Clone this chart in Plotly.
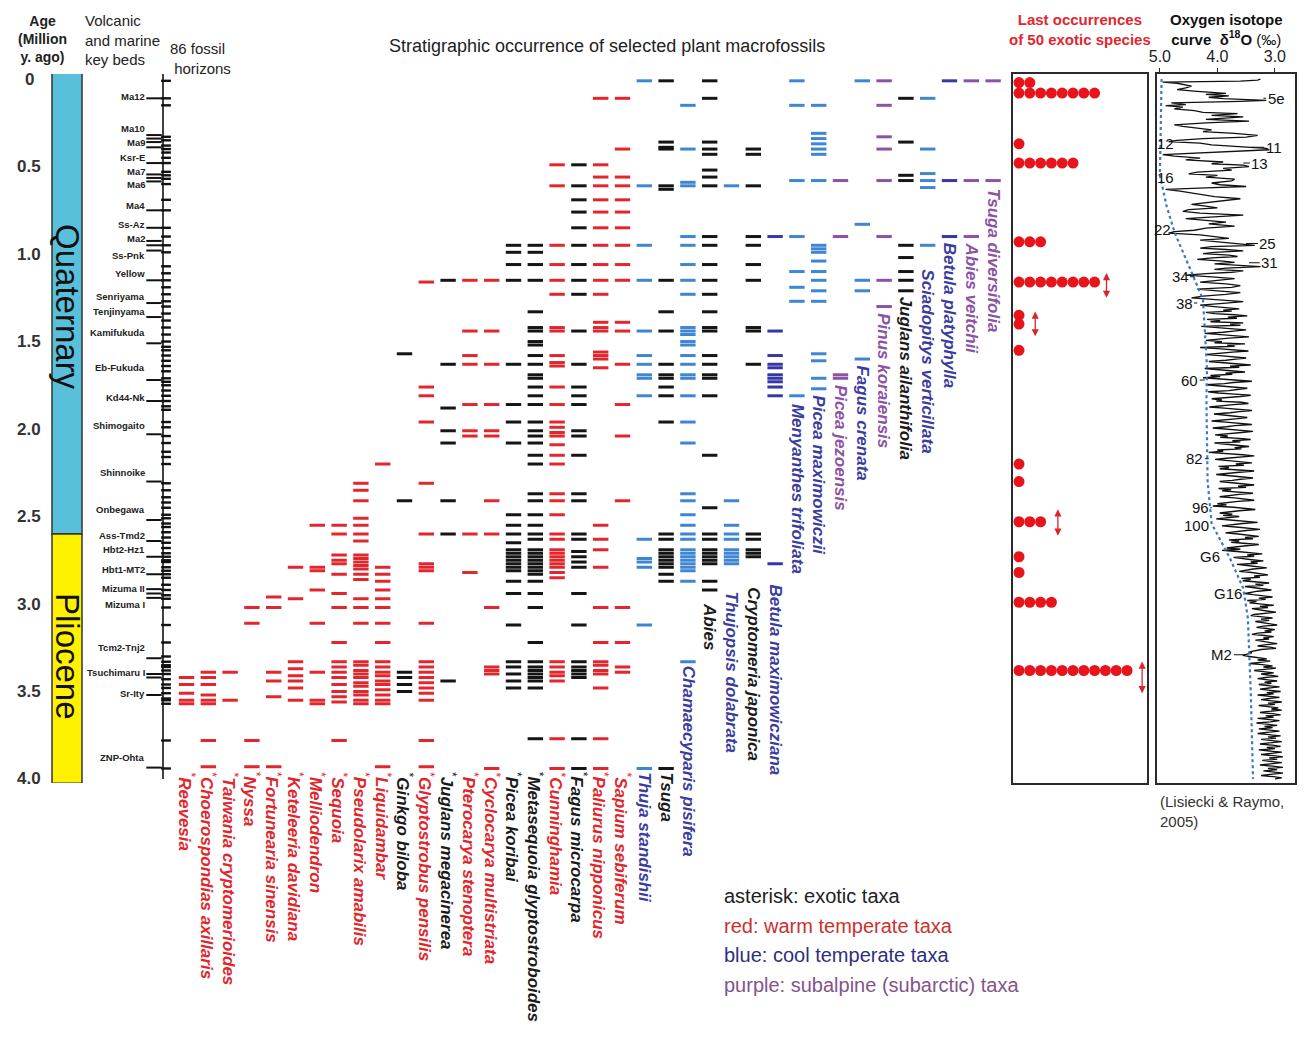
import plotly.graph_objects as go

W, H = 1307, 1037

# ------------------------------------------------------------------ data
age_ticks = [0.0, 0.5, 1.0, 1.5, 2.0, 2.5, 3.0, 3.5, 4.0]
age_tick_labels = ["0", "0.5", "1.0", "1.5", "2.0", "2.5", "3.0", "3.5", "4.0"]

periods = ["Quaternary", "Pliocene"]
period_from = [0.0, 2.6]
period_to = [2.6, 4.0]

key_beds = ["Ma12", "Ma10", "Ma9", "Ksr-E", "Ma7", "Ma6", "Ma4", "Ss-Az", "Ma2", "Ss-Pnk",
            "Yellow", "Senriyama", "Tenjinyama", "Kamifukuda", "Eb-Fukuda", "Kd44-Nk",
            "Shimogaito", "Shinnoike", "Onbegawa", "Ass-Tmd2", "Hbt2-Hz1", "Hbt1-MT2",
            "Mizuma II", "Mizuma I", "Tcm2-Tnj2", "Tsuchimaru I", "Sr-Ity", "ZNP-Ohta"]
key_bed_ages = [0.10, 0.28, 0.36, 0.45, 0.53, 0.60, 0.72, 0.83, 0.91, 1.01,
                1.11, 1.24, 1.33, 1.45, 1.65, 1.82, 1.98, 2.25, 2.46, 2.61,
                2.69, 2.80, 2.91, 3.00, 3.25, 3.39, 3.51, 3.88]
key_bed_tick_ages = [0.11, 0.32, 0.34, 0.36, 0.39, 0.48, 0.545, 0.565, 0.585, 0.75, 0.85,
                     0.925, 0.95, 0.98, 1.15, 1.28, 1.36, 1.51, 1.72, 1.84, 2.03, 2.30,
                     2.52, 2.64, 2.73, 2.83, 2.915, 2.94, 2.965, 3.31, 3.40, 3.42, 3.52, 3.935]

horizon_ages = [0.01, 0.11, 0.15, 0.33, 0.35, 0.38, 0.40, 0.42, 0.45, 0.48, 0.53, 0.55,
                0.57, 0.60, 0.69, 0.75, 0.85, 0.90, 0.95, 0.99, 1.07, 1.11, 1.15, 1.19,
                1.23, 1.27, 1.30, 1.34, 1.38, 1.42, 1.46, 1.50, 1.53, 1.55, 1.58, 1.61,
                1.64, 1.67, 1.71, 1.73, 1.75, 1.78, 1.81, 1.84, 1.87, 1.89, 1.96, 1.99,
                2.04, 2.08, 2.13, 2.16, 2.20, 2.31, 2.35, 2.39, 2.42, 2.45, 2.49, 2.51,
                2.54, 2.56, 2.59, 2.62, 2.65, 2.68, 2.71, 2.73, 2.75, 2.76, 2.79, 2.81,
                2.83, 2.85, 2.89, 2.92, 2.95, 2.97, 3.02, 3.12, 3.22, 3.30, 3.33, 3.35,
                3.36, 3.38, 3.40, 3.43, 3.46, 3.48, 3.51, 3.54, 3.55, 3.57, 3.78, 3.94]

taxa = ["Reevesia", "Choerospondias axillaris", "Taiwania cryptomerioides", "Nyssa",
        "Fortunearia sinensis", "Keteleeria davidiana", "Melliodendron", "Sequoia",
        "Pseudolarix amabilis", "Liquidambar", "Ginkgo biloba", "Glyptostrobus pensilis",
        "Juglans megacinerea", "Pterocarya stenoptera", "Cyclocarya multistriata",
        "Picea koribai", "Metasequoia glyptostroboides", "Cunninghamia", "Fagus microcarpa",
        "Paliurus nipponicus", "Sapium sebiferum", "Thuja standishii", "Tsuga",
        "Chamaecyparis pisifera", "Abies", "Thujopsis dolabrata", "Cryptomeria japonica",
        "Betula maximowicziana", "Menyanthes trifoliata", "Picea maximowiczii",
        "Picea jezoensis", "Fagus crenata", "Pinus koraiensis", "Juglans ailanthifolia",
        "Sciadopitys verticillata", "Betula platyphylla", "Abies veitchii", "Tsuga diversifolia"]
taxa_group = ["warm"] * 10 + ["exo"] + ["warm"] + ["exo", "warm", "warm", "exo", "exo", "warm",
              "exo", "warm", "warm", "cool", "con", "cool", "con", "cool", "con", "cool2",
              "cool", "cool", "sub", "cool", "sub", "con", "cool", "cool2", "sub", "sub"]
taxa_exotic = [True] * 21 + [False] * 17
taxa_label_top = [3.955] * 23 + [3.35, 2.99, 2.92, 2.90, 2.88, 1.85, 1.80, 1.74, 1.63,
                                 1.33, 1.24, 1.08, 0.93, 0.93, 0.62]

occ_reevesia = [3.42, 3.46, 3.51, 3.55, 3.57]
occ_choerospondias = [3.39, 3.42, 3.46, 3.52, 3.55, 3.57, 3.78, 3.93]
occ_taiwania = [3.39, 3.55]
occ_nyssa = [3.02, 3.11, 3.78, 3.93]
occ_fortunearia = [2.96, 3.02, 3.39, 3.44, 3.53, 3.93]
occ_keteleeria = [2.79, 2.97, 3.33, 3.37, 3.41, 3.44, 3.48, 3.55]
occ_melliodendron = [2.55, 2.79, 2.81, 2.92, 3.11, 3.39, 3.55, 3.57]
occ_sequoia = [2.55, 2.60, 2.72, 2.75, 2.77, 2.83, 2.94, 3.02, 3.22, 3.33, 3.36, 3.39,
               3.42, 3.46, 3.50, 3.53, 3.56, 3.78]
occ_pseudolarix = [2.31, 2.35, 2.41, 2.51, 2.55, 2.60, 2.64, 2.72, 2.74, 2.76, 2.78, 2.80,
                   2.83, 2.86, 2.97, 3.02, 3.11, 3.33, 3.35, 3.38, 3.40, 3.42, 3.45, 3.47,
                   3.50, 3.52, 3.55, 3.57]
occ_liquidambar = [2.20, 2.79, 2.83, 2.87, 2.92, 2.97, 3.02, 3.11, 3.22, 3.33, 3.36, 3.39,
                   3.41, 3.44, 3.46, 3.49, 3.52, 3.55, 3.57, 3.93]
occ_ginkgo = [1.57, 2.41, 3.39, 3.42, 3.46, 3.50]
occ_glyptostrobus = [1.16, 1.76, 1.81, 1.96, 2.31, 2.60, 2.77, 2.79, 2.81, 3.11, 3.33, 3.36,
                     3.39, 3.42, 3.45, 3.48, 3.51, 3.55, 3.78, 3.93]
occ_juglans_meg = [1.15, 1.63, 1.88, 2.01, 2.08, 2.41, 2.60, 3.44]
occ_pterocarya = [1.15, 1.44, 1.58, 1.63, 1.86, 2.01, 2.04, 2.60, 2.82]
occ_cyclocarya = [1.15, 1.44, 1.63, 1.86, 2.01, 2.04, 2.41, 2.60, 3.02, 3.36, 3.38, 3.40, 3.94]
occ_picea_koribai = [0.95, 0.99, 1.06, 1.15, 1.63, 1.86, 1.96, 2.08, 2.49, 2.55, 2.60, 2.65,
                     2.69, 2.71, 2.73, 2.75, 2.77, 2.79, 2.81, 2.87, 2.94, 3.12, 3.33, 3.36,
                     3.40, 3.44, 3.48]
occ_metasequoia = [0.95, 0.99, 1.06, 1.15, 1.33, 1.42, 1.44, 1.50, 1.52, 1.58, 1.63, 1.69,
                   1.71, 1.76, 1.81, 1.86, 1.96, 2.01, 2.04, 2.08, 2.15, 2.20, 2.37, 2.41,
                   2.49, 2.55, 2.60, 2.63, 2.69, 2.71, 2.73, 2.75, 2.77, 2.79, 2.81, 2.83,
                   2.87, 2.94, 3.02, 3.22, 3.33, 3.36, 3.38, 3.40, 3.42, 3.44, 3.48, 3.77]
occ_cunninghamia = [0.49, 0.61, 0.95, 1.06, 1.15, 1.23, 1.42, 1.44, 1.58, 1.62, 1.64, 1.76,
                    1.86, 1.96, 1.99, 2.02, 2.04, 2.09, 2.15, 2.20, 2.37, 2.41, 2.49, 2.60,
                    2.63, 2.69, 2.71, 2.73, 2.75, 2.77, 2.79, 2.82, 2.85, 3.33, 3.36, 3.39,
                    3.41, 3.44, 3.77, 3.94]
occ_fagus_micro = [0.49, 0.61, 0.69, 0.76, 0.85, 0.95, 1.06, 1.15, 1.23, 1.44, 1.63, 1.76,
                   1.81, 1.86, 2.01, 2.04, 2.15, 2.37, 2.41, 2.60, 2.63, 2.70, 2.73, 2.76,
                   2.79, 2.94, 3.12, 3.33, 3.36, 3.38, 3.40, 3.42, 3.77, 3.94]
occ_paliurus = [0.11, 0.49, 0.56, 0.61, 0.69, 0.76, 0.85, 0.95, 1.06, 1.15, 1.23, 1.39,
                1.42, 1.44, 1.56, 1.58, 1.60, 1.65, 2.55, 2.63, 2.69, 2.79, 3.02, 3.22,
                3.33, 3.35, 3.38, 3.40, 3.48, 3.77, 3.94]
occ_sapium = [0.11, 0.40, 0.56, 0.61, 0.69, 0.76, 0.85, 0.95, 1.06, 1.15, 1.39, 1.44, 1.63,
              1.86, 2.04, 2.41, 3.02, 3.22, 3.36, 3.39]
occ_thuja = [0.01, 0.61, 0.95, 1.15, 1.44, 1.58, 1.63, 1.69, 1.71, 1.81, 2.63, 2.74, 2.76,
             2.79, 3.12, 3.94]
occ_tsuga = [0.01, 0.36, 0.39, 0.40, 0.61, 0.63, 1.15, 1.33, 1.44, 1.63, 1.69, 1.71, 1.76,
             1.81, 1.96, 2.60, 2.63, 2.69, 2.71, 2.73, 2.75, 2.77, 2.79, 2.83, 2.87, 3.94]
occ_chamaecyparis = [0.15, 0.40, 0.59, 0.61, 0.90, 0.95, 1.06, 1.15, 1.23, 1.42, 1.44, 1.46,
                     1.50, 1.52, 1.58, 1.63, 1.69, 1.71, 1.81, 1.96, 2.08, 2.37, 2.41, 2.49,
                     2.55, 2.60, 2.63, 2.69, 2.71, 2.73, 2.75, 2.77, 2.79, 2.81, 2.87, 3.33]
occ_abies = [0.01, 0.11, 0.36, 0.40, 0.43, 0.52, 0.56, 0.61, 0.90, 0.95, 1.06, 1.15, 1.23,
             1.33, 1.42, 1.44, 1.58, 1.63, 1.69, 1.71, 1.81, 2.15, 2.45, 2.60, 2.63, 2.69,
             2.71, 2.73, 2.75, 2.77, 2.87, 2.92]
occ_thujopsis = [0.61, 2.41, 2.55, 2.60, 2.63, 2.69, 2.71, 2.73, 2.75, 2.77]
occ_cryptomeria = [0.40, 0.43, 0.61, 0.90, 0.95, 1.06, 1.15, 1.42, 1.44, 1.63, 2.60, 2.63,
                   2.69, 2.71, 2.73]
occ_betula_max = [0.90, 1.44, 1.58, 1.63, 1.65, 1.69, 1.71, 1.73, 1.76, 1.81, 2.77]
occ_menyanthes = [0.01, 0.15, 0.58, 0.90, 1.10, 1.19, 1.27, 1.81]
occ_picea_max = [0.15, 0.31, 0.34, 0.37, 0.40, 0.43, 0.58, 0.95, 0.97, 0.99, 1.04, 1.10,
                 1.15, 1.21, 1.27, 1.57, 1.61, 1.71, 1.77]
occ_picea_jez = [0.58, 0.90, 1.69, 1.71]
occ_fagus_crenata = [0.01, 0.83, 1.15, 1.21, 1.60]
occ_pinus_kor = [0.01, 0.15, 0.33, 0.40, 0.58, 0.90, 1.15, 1.30]
occ_juglans_ail = [0.11, 0.36, 0.55, 0.58, 0.95, 1.02, 1.10, 1.15, 1.21]
occ_sciadopitys = [0.11, 0.40, 0.54, 0.58, 0.62, 0.95]
occ_betula_pla = [0.01, 0.58, 0.90]
occ_abies_vei = [0.01, 0.58, 0.90]
occ_tsuga_div = [0.01, 0.58]

taxa_occurrences = [occ_reevesia, occ_choerospondias, occ_taiwania, occ_nyssa, occ_fortunearia,
                    occ_keteleeria, occ_melliodendron, occ_sequoia, occ_pseudolarix,
                    occ_liquidambar, occ_ginkgo, occ_glyptostrobus, occ_juglans_meg,
                    occ_pterocarya, occ_cyclocarya, occ_picea_koribai, occ_metasequoia,
                    occ_cunninghamia, occ_fagus_micro, occ_paliurus, occ_sapium, occ_thuja,
                    occ_tsuga, occ_chamaecyparis, occ_abies, occ_thujopsis, occ_cryptomeria,
                    occ_betula_max, occ_menyanthes, occ_picea_max, occ_picea_jez,
                    occ_fagus_crenata, occ_pinus_kor, occ_juglans_ail, occ_sciadopitys,
                    occ_betula_pla, occ_abies_vei, occ_tsuga_div]

# last occurrences of exotic species: age of the level and number of species
last_occ_ages = [0.02, 0.08, 0.37, 0.48, 0.93, 1.16, 1.35, 1.40, 1.55, 2.20, 2.30, 2.53,
                 2.73, 2.82, 2.99, 3.38]
last_occ_counts = [2, 8, 1, 6, 3, 8, 1, 1, 1, 1, 1, 3, 1, 1, 4, 11]
# uncertainty arrows: (dot column, top age, bottom age)
arrow_dot_col = [8.1, 1.5, 3.6, 11.4]
arrow_top = [1.10, 1.32, 2.45, 3.32]
arrow_bottom = [1.25, 1.47, 2.61, 3.51]

# LR04 benthic d18O stack: (age ka, d18O permil)
iso_curve = [
    (0, 3.25), (6, 3.3), (12, 3.6), (18, 4.95), (24, 4.7), (30, 4.6), (40, 4.45), (50, 4.55),
    (60, 4.7), (70, 4.35), (82, 3.85), (88, 4.2), (96, 3.8), (104, 4.15), (112, 3.9),
    (122, 3.15), (128, 3.6), (136, 4.8), (146, 4.55), (152, 4.9), (160, 4.6), (170, 4.75),
    (180, 4.4), (190, 4.25), (198, 3.65), (208, 4.1), (216, 3.55), (230, 4.2), (240, 3.45),
    (250, 4.2), (262, 4.75), (270, 4.6), (280, 4.3), (290, 4.1), (300, 4.25), (310, 3.7),
    (322, 3.3), (332, 3.5), (340, 4.25), (350, 4.7), (358, 4.85), (366, 4.3), (376, 4.1),
    (386, 3.6), (396, 3.15), (404, 3.1), (414, 3.7), (424, 4.5), (432, 4.95), (440, 4.75),
    (452, 4.3), (462, 4.55), (474, 3.9), (484, 4.1), (492, 3.55), (500, 3.45), (510, 3.9),
    (520, 3.75), (532, 4.35), (542, 4.5), (550, 4.0), (560, 4.2), (572, 3.7), (582, 3.75),
    (594, 4.1), (604, 3.95), (614, 3.5), (622, 4.2), (630, 4.9), (640, 4.65), (650, 4.45),
    (660, 4.3), (672, 4.05), (684, 3.6), (694, 3.9), (706, 4.2), (716, 4.45), (726, 4.2),
    (736, 4.0), (746, 4.5), (756, 4.6), (766, 4.3), (778, 3.55), (790, 4.2), (798, 4.55),
    (808, 4.2), (818, 3.85), (828, 4.15), (840, 3.7), (852, 4.2), (864, 4.4), (872, 4.75),
    (880, 4.85), (890, 4.3), (900, 4.05), (910, 3.8), (920, 4.3), (930, 3.95), (942, 3.6),
    (950, 3.35), (958, 4.1), (966, 4.3), (974, 3.85), (982, 3.55), (990, 4.05), (998, 4.25),
    (1006, 3.8), (1014, 3.65), (1022, 4.1), (1030, 4.35), (1040, 3.9), (1048, 3.7),
    (1056, 4.05), (1064, 3.6), (1072, 3.25), (1080, 3.85), (1088, 4.05), (1096, 3.55),
    (1104, 3.75), (1112, 4.2), (1120, 4.55), (1130, 4.1), (1140, 3.7), (1150, 4.0),
    (1160, 4.3), (1170, 3.85), (1180, 3.6), (1190, 3.75), (1200, 4.35), (1210, 4.0),
    (1220, 3.6), (1230, 3.85), (1240, 4.25), (1250, 4.45), (1262, 4.0), (1272, 3.55),
    (1282, 3.9), (1292, 4.3),
    (1300, 4.05), (1307, 3.80), (1313, 3.62), (1320, 3.90), (1326, 3.75), (1333, 4.20),
    (1340, 4.05), (1347, 3.70), (1353, 3.48), (1360, 3.82), (1367, 3.66), (1373, 4.18),
    (1380, 3.95), (1387, 4.12), (1393, 3.55), (1400, 3.78), (1407, 3.60), (1413, 4.28),
    (1420, 4.02), (1427, 3.85), (1433, 3.50), (1440, 3.72), (1447, 3.90), (1453, 4.22),
    (1460, 3.88), (1467, 3.62), (1473, 3.45), (1480, 3.80), (1487, 3.98), (1493, 4.20),
    (1500, 3.92), (1507, 4.05), (1513, 3.52), (1520, 3.83), (1527, 3.70), (1534, 4.30),
    (1540, 4.00), (1547, 3.78), (1554, 3.46), (1560, 3.74), (1567, 3.92), (1574, 4.18),
    (1580, 3.96), (1587, 3.75), (1594, 3.50), (1600, 3.68), (1607, 3.85), (1614, 4.15),
    (1620, 3.90), (1627, 3.70), (1634, 3.42), (1640, 3.78), (1647, 3.62), (1654, 4.22),
    (1660, 4.00), (1667, 3.82), (1674, 3.52), (1680, 3.86), (1687, 3.74), (1694, 4.12),
    (1700, 3.95), (1707, 4.25), (1714, 3.90), (1720, 3.62), (1727, 3.40), (1734, 3.72),
    (1740, 3.88), (1747, 4.20), (1754, 3.94), (1760, 3.76), (1767, 3.48), (1774, 3.66),
    (1780, 3.80), (1787, 4.16), (1794, 3.98), (1800, 3.70), (1807, 3.42), (1814, 3.60),
    (1820, 3.84), (1827, 4.10), (1834, 3.92), (1840, 4.02), (1847, 3.58), (1854, 3.46),
    (1860, 3.72), (1867, 3.90), (1874, 4.14), (1880, 3.88), (1887, 3.66), (1894, 3.40),
    (1900, 3.62), (1907, 3.78), (1914, 4.06), (1920, 3.90), (1927, 3.72), (1934, 3.48),
    (1940, 3.64), (1947, 3.86), (1954, 4.10), (1960, 3.85), (1967, 3.62), (1974, 3.40),
    (1980, 3.70), (1987, 3.84), (1994, 4.08), (2000, 3.86), (2007, 3.68), (2014, 3.38),
    (2020, 3.58), (2027, 3.76), (2034, 4.04), (2040, 3.82), (2047, 3.95), (2054, 3.62),
    (2060, 3.42), (2067, 3.74), (2074, 3.60), (2080, 4.05), (2087, 3.82), (2094, 3.66),
    (2100, 3.45), (2107, 3.70), (2114, 3.58), (2120, 4.00), (2127, 3.90), (2134, 4.15),
    (2140, 3.80), (2147, 3.56), (2154, 3.36), (2160, 3.66), (2167, 3.84), (2174, 4.04),
    (2180, 3.82), (2187, 3.62), (2194, 3.40), (2200, 3.68), (2207, 3.54), (2214, 3.98),
    (2220, 3.80), (2227, 3.96), (2234, 3.60), (2240, 3.36), (2247, 3.62), (2254, 3.80),
    (2260, 4.02), (2267, 3.78), (2274, 3.58), (2280, 3.38), (2287, 3.60), (2294, 3.74),
    (2300, 3.96), (2307, 3.72), (2314, 3.52), (2320, 3.36), (2327, 3.64), (2334, 3.50),
    (2340, 3.98), (2347, 3.76), (2354, 3.92), (2360, 3.56), (2367, 3.38), (2374, 3.62),
    (2380, 3.80), (2387, 3.96), (2394, 3.70), (2400, 3.50), (2407, 3.36), (2414, 3.64),
    (2420, 3.78), (2427, 4.00), (2434, 3.84), (2440, 4.08), (2447, 3.72), (2454, 3.46),
    (2460, 3.34), (2467, 3.62), (2474, 3.80), (2480, 3.96), (2487, 3.74), (2494, 3.90),
    (2500, 3.62), (2507, 3.80), (2514, 4.02), (2520, 3.78), (2527, 3.50), (2534, 3.30),
    (2540, 3.56), (2547, 3.74), (2554, 3.92), (2560, 3.68), (2567, 3.48), (2574, 3.26),
    (2580, 3.50), (2587, 3.68), (2594, 3.86), (2600, 3.64), (2607, 3.44), (2614, 3.28),
    (2620, 3.52), (2627, 3.38), (2634, 3.80), (2640, 3.62), (2647, 3.76), (2654, 3.48),
    (2660, 3.28), (2667, 3.50), (2674, 3.68), (2680, 3.84), (2687, 3.60), (2694, 3.92),
    (2700, 3.66), (2707, 3.40), (2714, 3.22), (2720, 3.48), (2727, 3.36), (2734, 3.72),
    (2740, 3.52), (2747, 3.40), (2754, 3.20), (2760, 3.42), (2767, 3.30), (2774, 3.66),
    (2780, 3.48), (2787, 3.30), (2794, 3.14), (2800, 3.38), (2807, 3.50), (2814, 3.62),
    (2820, 3.40), (2827, 3.22), (2834, 3.12), (2840, 3.36), (2847, 3.26), (2854, 3.58),
    (2860, 3.42), (2867, 3.56), (2874, 3.30), (2880, 3.10), (2887, 3.34), (2894, 3.20),
    (2900, 3.52), (2907, 3.36), (2914, 3.24), (2920, 3.06), (2927, 3.30), (2934, 3.40),
    (2940, 3.52), (2947, 3.38), (2954, 3.22), (2960, 3.04), (2967, 3.28), (2974, 3.16),
    (2980, 3.48), (2987, 3.32), (2994, 3.44), (3000, 3.18), (3007, 3.02), (3014, 3.26),
    (3020, 3.12), (3027, 3.40), (3034, 3.28), (3040, 3.14), (3047, 2.98), (3054, 3.22),
    (3060, 3.36), (3067, 3.42), (3074, 3.20), (3080, 3.04), (3087, 3.24), (3094, 3.10),
    (3100, 3.34), (3107, 3.20), (3114, 3.04), (3120, 2.96), (3127, 3.20), (3134, 3.32),
    (3140, 3.14), (3147, 3.00), (3154, 3.18), (3160, 3.06), (3167, 3.30), (3174, 3.40),
    (3180, 3.18), (3187, 3.02), (3194, 3.20), (3200, 3.10), (3207, 3.34), (3214, 3.22),
    (3220, 3.06), (3227, 2.96), (3234, 3.18), (3240, 3.30), (3247, 3.08), (3254, 2.98),
    (3260, 3.24), (3267, 3.36), (3274, 3.44), (3280, 3.40), (3287, 3.50), (3294, 3.56),
    (3300, 3.44), (3307, 3.30), (3314, 3.14), (3320, 3.30), (3327, 3.08), (3334, 3.26),
    (3340, 3.44), (3347, 3.22), (3354, 3.04), (3360, 3.20), (3367, 2.98), (3374, 3.18),
    (3380, 3.36), (3387, 3.20), (3394, 3.02), (3400, 3.24), (3407, 3.12), (3414, 2.94),
    (3420, 3.16), (3427, 3.30), (3434, 3.12), (3440, 2.96), (3447, 3.18), (3454, 3.06),
    (3460, 3.28), (3467, 3.14), (3474, 2.92), (3480, 3.10), (3487, 3.26), (3494, 3.08),
    (3500, 2.90), (3507, 3.14), (3514, 3.02), (3520, 3.30), (3527, 3.12), (3534, 2.92),
    (3540, 3.10), (3547, 3.24), (3554, 3.04), (3560, 2.88), (3567, 3.12), (3574, 3.00),
    (3580, 3.28), (3587, 3.10), (3594, 2.94), (3600, 3.06), (3607, 2.88), (3614, 3.12),
    (3620, 3.26), (3627, 3.04), (3634, 2.90), (3640, 3.16), (3647, 3.02), (3654, 3.30),
    (3660, 3.12), (3667, 2.92), (3674, 3.08), (3680, 3.32), (3687, 3.14), (3694, 2.96),
    (3700, 3.18), (3707, 3.04), (3714, 3.28), (3720, 3.10), (3727, 2.92), (3734, 3.14),
    (3740, 3.30), (3747, 3.10), (3754, 2.90), (3760, 3.12), (3767, 2.98), (3774, 3.24),
    (3780, 3.06), (3787, 2.88), (3794, 3.10), (3800, 3.26), (3807, 3.04), (3814, 2.90),
    (3820, 3.14), (3827, 3.00), (3834, 3.28), (3840, 3.08), (3847, 2.88), (3854, 3.06),
    (3860, 3.24), (3867, 3.02), (3874, 2.86), (3880, 3.10), (3887, 2.96), (3894, 3.22),
    (3900, 3.06), (3907, 2.88), (3914, 3.08), (3920, 3.26), (3927, 3.04), (3934, 2.86),
    (3940, 3.12), (3947, 2.96), (3954, 3.20), (3960, 3.02), (3967, 2.86), (3974, 3.08),
    (3980, 3.24), (3987, 3.02), (3994, 2.88), (4000, 3.00),
]
trend_ages = [0.0, 0.30, 0.55, 0.73, 0.88, 1.08, 1.19, 1.26, 1.65, 1.84, 2.30, 2.54, 2.74,
              2.91, 3.08, 3.50, 4.0]
trend_d18o = [4.97, 4.99, 5.0, 4.88, 4.74, 4.48, 4.34, 4.25, 4.18, 4.19, 4.17, 4.10, 3.78,
              3.55, 3.47, 3.42, 3.38]

# marine isotope stage labels: label position and curve point the leader goes to
stage_labels = ["5e", "12", "11", "13", "16", "22", "25", "31", "34", "38", "60", "82",
                "96", "100", "G6", "G16", "M2"]
stage_ages = [0.11, 0.37, 0.39, 0.48, 0.56, 0.86, 0.94, 1.05, 1.13, 1.28, 1.72, 2.17,
              2.45, 2.55, 2.73, 2.94, 3.29]
stage_d18o = [2.98, 4.90, 3.02, 3.26, 4.90, 4.95, 3.12, 3.09, 4.65, 4.58, 4.48, 4.39,
              4.30, 4.36, 4.13, 3.82, 3.92]
stage_leader_to = [3.20, None, 3.40, 3.55, None, None, 3.50, 3.45, 4.40, 4.35, 4.22, 4.15,
                   4.10, 4.12, 3.95, 3.58, 3.50]

legend_lines = ["asterisk: exotic taxa", "red: warm temperate taxa",
                "blue: cool temperate taxa", "purple: subalpine (subarctic) taxa"]

# ------------------------------------------------------------------ style / layout constants
FONT = "Liberation Sans, Arial, sans-serif"
NARROW = "Liberation Sans Narrow, Arial Narrow, Liberation Sans, sans-serif"
LABEL_COLOR = {"warm": "#E0262B", "exo": "#1a1a1a", "con": "#1a1a1a", "cool": "#3A3C9E",
               "cool2": "#3A3C9E", "sub": "#8B52A5"}
DASH_COLOR = {"warm": "#E3262C", "exo": "#151515", "con": "#151515", "cool": "#3E86D4",
              "cool2": "#3537A6", "sub": "#8B52A5"}
PERIOD_COLOR = ["#58C0DA", "#FFF100"]
LEGEND_COLOR = ["#222222", "#C8322F", "#2E2F80", "#84548A"]

COL_X0, COL_DX = 186.5, 21.8          # pixel position of first taxon column, spacing
Y_TOP_PX, Y_BOT_PX = 74, 783           # plotting frame in pixels
AGE_RANGE = [4.023, -0.029]


def px(x):
    return x / W


def py(y):
    return 1 - y / H


Y_DOMAIN = [py(Y_BOT_PX), py(Y_TOP_PX)]

fig = go.Figure()

# ---- taxon dashes
groups = {}
for name, grp, occ in zip(taxa, taxa_group, taxa_occurrences):
    xs, ys = groups.setdefault(DASH_COLOR[grp], ([], []))
    xs.extend([name] * len(occ))
    ys.extend(occ)
for col, (xs, ys) in groups.items():
    fig.add_trace(go.Scatter(
        x=xs, y=ys, mode="markers", xaxis="x", yaxis="y", hoverinfo="skip", showlegend=False,
        marker=dict(symbol="line-ew", size=11, color=col, line=dict(color=col, width=3))))

# ---- fossil horizon axis and key-bed ticks (pixel x axis overlaid)
fig.add_trace(go.Scatter(x=[163, 163], y=[AGE_RANGE[1] - 0.03, horizon_ages[-1] + 0.06],
                         mode="lines", xaxis="x4", yaxis="y", line=dict(color="#111", width=1.6),
                         hoverinfo="skip", showlegend=False))
fig.add_trace(go.Scatter(x=[166] * len(horizon_ages), y=horizon_ages, mode="markers",
                         xaxis="x4", yaxis="y", hoverinfo="skip", showlegend=False,
                         marker=dict(symbol="line-ew", size=7, color="#111",
                                     line=dict(color="#111", width=2.4))))
fig.add_trace(go.Scatter(x=[154] * len(key_bed_tick_ages), y=key_bed_tick_ages, mode="markers",
                         xaxis="x4", yaxis="y", hoverinfo="skip", showlegend=False,
                         marker=dict(symbol="line-ew", size=11, color="#111",
                                     line=dict(color="#111", width=2.0))))

# ---- last occurrences dots
dot_x, dot_y = [], []
for a, n in zip(last_occ_ages, last_occ_counts):
    dot_x.extend(range(n))
    dot_y.extend([a] * n)
fig.add_trace(go.Scatter(x=dot_x, y=dot_y, mode="markers", xaxis="x2", yaxis="y2",
                         hoverinfo="skip", showlegend=False,
                         marker=dict(symbol="circle", size=11, color="#E8141B",
                                     line=dict(width=0))))

# ---- isotope curve
fig.add_trace(go.Scatter(x=[v for _, v in iso_curve], y=[a / 1000 for a, _ in iso_curve],
                         mode="lines", xaxis="x3", yaxis="y3", hoverinfo="skip",
                         showlegend=False, line=dict(color="#111", width=1.3)))
fig.add_trace(go.Scatter(x=trend_d18o, y=trend_ages, mode="lines", xaxis="x3", yaxis="y3",
                         hoverinfo="skip", showlegend=False,
                         line=dict(color="#3C78C8", width=2.2, dash="dot")))

# ---- shapes: period bar
shapes = []
for i, (a0, a1) in enumerate(zip(period_from, period_to)):
    shapes.append(dict(type="rect", xref="paper", yref="y", x0=px(52), x1=px(82),
                       y0=a0 - (0.035 if i == 0 else 0), y1=a1 + (0.025 if i == 1 else 0),
                       fillcolor=PERIOD_COLOR[i], line=dict(color="#333", width=1.5),
                       layer="below"))

# ---- annotations
ann = []
for a, t in zip(age_ticks, age_tick_labels):
    ann.append(dict(x=px(29), y=a, xref="paper", yref="y", text=f"<b>{t}</b>",
                    showarrow=False, xanchor="center", yanchor="middle",
                    font=dict(family=FONT, size=17, color="#333")))
for i, p in enumerate(periods):
    ann.append(dict(x=px(67.5), y=(period_from[i] + period_to[i]) / 2, xref="paper", yref="y",
                    text=p, showarrow=False, textangle=90, xanchor="center", yanchor="middle",
                    font=dict(family=FONT, size=33, color="#111")))
for name, a in zip(key_beds, key_bed_ages):
    ann.append(dict(x=px(147), y=a, xref="paper", yref="y", text=f"<b>{name}</b>",
                    showarrow=False, xanchor="right", yanchor="middle",
                    font=dict(family=NARROW, size=9.5, color="#222")))
for name, grp, exo, top in zip(taxa, taxa_group, taxa_exotic, taxa_label_top):
    txt = ("<sup>*</sup>" if exo else "") + f"<b><i>{name}</i></b>"
    ann.append(dict(x=name, y=top, xref="x", yref="y", text=txt, showarrow=False,
                    textangle=90, xanchor="center", yanchor="top", borderpad=0,
                    font=dict(family=FONT, size=17, color=LABEL_COLOR[grp])))
for c, t0, t1 in zip(arrow_dot_col, arrow_top, arrow_bottom):
    ann.append(dict(x=c, y=t1, ax=c, ay=t0, xref="x2", yref="y2", axref="x2", ayref="y2",
                    text="", showarrow=True, arrowhead=2, arrowside="end+start",
                    arrowsize=1.1, arrowwidth=1.3, arrowcolor="#D8262C"))
for t, a, v, lead in zip(stage_labels, stage_ages, stage_d18o, stage_leader_to):
    f = dict(family=FONT, size=15, color="#111")
    if lead is None:
        ann.append(dict(x=v, y=a, xref="x3", yref="y3", text=t, showarrow=False,
                        xanchor="center", yanchor="middle", font=f))
    else:
        ann.append(dict(x=lead, y=a, ax=v, ay=a, xref="x3", yref="y3", axref="x3",
                        ayref="y3", text=t, showarrow=True, arrowhead=0, arrowwidth=1.1,
                        arrowcolor="#111", standoff=0, font=f))

# headers
ann += [
    dict(x=px(42), y=py(39), xref="paper", yref="paper", showarrow=False,
         text="<b>Age<br>(Million<br>y. ago)</b>", align="center", xanchor="center",
         yanchor="middle", font=dict(family=NARROW, size=14, color="#222")),
    dict(x=px(83), y=py(40), xref="paper", yref="paper", showarrow=False,
         text="Volcanic<br>and marine<br>key beds", align="left", xanchor="left",
         yanchor="middle", font=dict(family=FONT, size=15, color="#222")),
    dict(x=px(168), y=py(58), xref="paper", yref="paper", showarrow=False,
         text="86 fossil<br> horizons", align="left", xanchor="left", yanchor="middle",
         font=dict(family=FONT, size=15, color="#222")),
    dict(x=px(607), y=py(46), xref="paper", yref="paper", showarrow=False,
         text="Stratigraphic occurrence of selected plant macrofossils", xanchor="center",
         yanchor="middle", font=dict(family=FONT, size=18, color="#222")),
    dict(x=px(1080), y=py(30), xref="paper", yref="paper", showarrow=False,
         text="<b>Last occurrences<br>of 50 exotic species</b>", align="center",
         xanchor="center", yanchor="middle", font=dict(family=NARROW, size=15, color="#E3262E")),
    dict(x=px(1226), y=py(29), xref="paper", yref="paper", showarrow=False,
         text="<b>Oxygen isotope<br>curve  δ<sup>18</sup>O</b> (‰)", align="center",
         xanchor="center", yanchor="middle", font=dict(family=NARROW, size=15, color="#111")),
    dict(x=px(1158), y=py(811), xref="paper", yref="paper", showarrow=False,
         text="(Lisiecki & Raymo,<br>2005)", align="left", xanchor="left", yanchor="middle",
         font=dict(family=FONT, size=15, color="#333")),
]
for i, (t, yy) in enumerate(zip(legend_lines, [896, 926, 955, 985])):
    ann.append(dict(x=px(722), y=py(yy), xref="paper", yref="paper", text=t, showarrow=False,
                    xanchor="left", yanchor="middle",
                    font=dict(family=FONT, size=20, color=LEGEND_COLOR[i])))

box = dict(showline=True, mirror=True, linecolor="#2a2a2a", linewidth=1.6, showgrid=False,
           zeroline=False, ticks="", showticklabels=False, fixedrange=True, automargin=False)

fig.update_layout(
    width=W, height=H, autosize=False,
    margin=dict(l=0, r=0, t=0, b=0, pad=0, autoexpand=False),
    paper_bgcolor="white", plot_bgcolor="rgba(0,0,0,0)",
    showlegend=False,
    xaxis=dict(type="category", categoryorder="array", categoryarray=taxa,
               range=[-COL_X0 / COL_DX, (W - COL_X0) / COL_DX], domain=[0, 1],
               visible=False, anchor="y", fixedrange=True, automargin=False),
    yaxis=dict(domain=Y_DOMAIN, range=AGE_RANGE, visible=False, anchor="x", fixedrange=True,
               automargin=False),
    xaxis4=dict(overlaying="x", range=[0, W], visible=False, anchor="y", fixedrange=True,
                automargin=False),
    xaxis2=dict(domain=[px(1013), px(1147)], range=[-0.556, 11.85], anchor="y2", **box),
    yaxis2=dict(domain=Y_DOMAIN, range=AGE_RANGE, anchor="x2", **box),
    xaxis3=dict(domain=[px(1157), px(1295)], range=[5.05, 2.65], anchor="y3", side="top",
                showline=True, mirror=True, linecolor="#2a2a2a", linewidth=1.6,
                showgrid=False, zeroline=False, ticks="outside", ticklen=4, tickwidth=1.2,
                tickcolor="#2a2a2a", tickvals=[5.0, 4.0, 3.0], ticktext=["5.0", "4.0", "3.0"],
                tickfont=dict(family=FONT, size=16, color="#222"), fixedrange=True,
                automargin=False),
    yaxis3=dict(domain=Y_DOMAIN, range=AGE_RANGE, anchor="x3", **box),
    shapes=shapes,
    annotations=ann,
)

fig.write_html("out.html", config={"displayModeBar": False},
               post_script="document.body.style.margin='0';")
